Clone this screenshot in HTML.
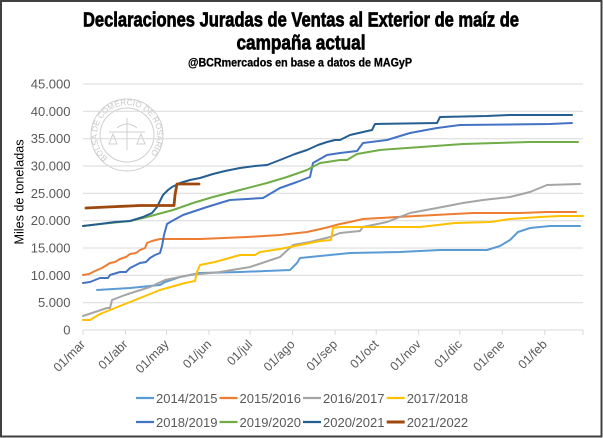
<!DOCTYPE html>
<html><head><meta charset="utf-8"><style>
html,body{margin:0;padding:0;background:#fff;}
svg{display:block;}
</style></head><body>
<svg width="603" height="438" viewBox="0 0 603 438" xmlns="http://www.w3.org/2000/svg">
<rect x="0" y="0" width="603" height="438" fill="#fff"/>
<rect x="1" y="1" width="600.5" height="435.5" fill="none" stroke="#404040" stroke-width="2"/>
<g font-family="'Liberation Sans Narrow','Liberation Sans',sans-serif" font-weight="bold" fill="#000" stroke="#000" text-anchor="middle">
<text x="301" y="26.5" font-size="20" stroke-width="0.7" textLength="436" lengthAdjust="spacingAndGlyphs">Declaraciones Juradas de Ventas al Exterior de maíz de</text>
<text x="301" y="49.5" font-size="20" stroke-width="0.7" textLength="129" lengthAdjust="spacingAndGlyphs">campaña actual</text>
<text x="300" y="66.5" font-size="12" stroke-width="0.3" textLength="224" lengthAdjust="spacingAndGlyphs">@BCRmercados en base a datos de MAGyP</text>
</g>
<g fill="none" stroke="#cfcfcf" stroke-width="1">
<circle cx="127" cy="135" r="36"/>
<circle cx="127" cy="135" r="27"/>
<path d="M117 128 q10 -8 20 0 M127 118 v32 M113 134 l-4 10 h8 z M141 134 l-4 10 h8 z M109 132 h36"/>
</g>
<defs><path id="arc" d="M107.7 158 A30 30 0 1 1 146.3 158"/></defs>
<text font-family="'Liberation Sans',sans-serif" font-size="8" fill="#c8c8c8"><textPath href="#arc" textLength="140" lengthAdjust="spacingAndGlyphs">BOLSA DE COMERCIO DE ROSARIO</textPath></text>
<g stroke="#d9d9d9" stroke-width="1">
<line x1="83" x2="583" y1="302.7" y2="302.7"/>
<line x1="83" x2="583" y1="275.3" y2="275.3"/>
<line x1="83" x2="583" y1="248" y2="248"/>
<line x1="83" x2="583" y1="220.7" y2="220.7"/>
<line x1="83" x2="583" y1="193.3" y2="193.3"/>
<line x1="83" x2="583" y1="166" y2="166"/>
<line x1="83" x2="583" y1="138.7" y2="138.7"/>
<line x1="83" x2="583" y1="111.3" y2="111.3"/>
<line x1="83" x2="583" y1="84" y2="84"/>
</g>
<g stroke="#d9d9d9" stroke-width="1">
<line x1="83" x2="583" y1="330" y2="330"/>
<line x1="83" x2="83" y1="330" y2="335"/>
<line x1="125.5" x2="125.5" y1="330" y2="335"/>
<line x1="166.6" x2="166.6" y1="330" y2="335"/>
<line x1="209" x2="209" y1="330" y2="335"/>
<line x1="250.1" x2="250.1" y1="330" y2="335"/>
<line x1="292.6" x2="292.6" y1="330" y2="335"/>
<line x1="335.1" x2="335.1" y1="330" y2="335"/>
<line x1="376.2" x2="376.2" y1="330" y2="335"/>
<line x1="418.7" x2="418.7" y1="330" y2="335"/>
<line x1="459.8" x2="459.8" y1="330" y2="335"/>
<line x1="502.3" x2="502.3" y1="330" y2="335"/>
<line x1="544.8" x2="544.8" y1="330" y2="335"/>
<line x1="583" x2="583" y1="330" y2="335"/>
</g>
<g font-family="'Liberation Sans',sans-serif" font-size="13" fill="#595959" text-anchor="end">
<text x="70.5" y="334.5">0</text>
<text x="70.5" y="307.2">5.000</text>
<text x="70.5" y="279.8">10.000</text>
<text x="70.5" y="252.5">15.000</text>
<text x="70.5" y="225.2">20.000</text>
<text x="70.5" y="197.8">25.000</text>
<text x="70.5" y="170.5">30.000</text>
<text x="70.5" y="143.2">35.000</text>
<text x="70.5" y="115.8">40.000</text>
<text x="70.5" y="88.5">45.000</text>
</g>
<text transform="translate(23.5,192) rotate(-90)" font-family="'Liberation Sans',sans-serif" font-size="13" fill="#000" text-anchor="middle" textLength="105" lengthAdjust="spacingAndGlyphs">Miles de toneladas</text>
<g font-family="'Liberation Sans',sans-serif" font-size="12.5" fill="#595959" text-anchor="end">
<text transform="translate(86,345) rotate(-45)">01/mar</text>
<text transform="translate(128.5,345) rotate(-45)">01/abr</text>
<text transform="translate(169.6,345) rotate(-45)">01/may</text>
<text transform="translate(212,345) rotate(-45)">01/jun</text>
<text transform="translate(253.1,345) rotate(-45)">01/jul</text>
<text transform="translate(295.6,345) rotate(-45)">01/ago</text>
<text transform="translate(338.1,345) rotate(-45)">01/sep</text>
<text transform="translate(379.2,345) rotate(-45)">01/oct</text>
<text transform="translate(421.7,345) rotate(-45)">01/nov</text>
<text transform="translate(462.8,345) rotate(-45)">01/dic</text>
<text transform="translate(505.3,345) rotate(-45)">01/ene</text>
<text transform="translate(547.8,345) rotate(-45)">01/feb</text>
</g>
<g fill="none" stroke-width="2" stroke-linejoin="round" stroke-linecap="round">
<polyline stroke="#5B9BD5" points="97,290 130,288 160,285 165,282 180,277 200,273 240,272 290,270 297,263 300,258 320,256 330,255 350,253 400,252 440,250 487,250 500,246 510,240 518,232 530,228 550,226 580,226"/>
<polyline stroke="#ED7D31" points="83,275 89,274 95,271 102,268 110,263 115,262 120,259 126,257 130,254 136,253 140,250 145,248 147,243 152,241 160,239 200,239 247,237 280,235 307,232 325,228 340,224 350,222 363,219 397,217 473,213 520,213 547,212 576,212"/>
<polyline stroke="#A5A5A5" points="83,316 95,312 107,308 110,308 112,300 125,295 150,287 165,280 190,275 220,272 250,267 265,262 280,257 293,245 310,242 330,237 340,233 360,231 363,227 387,222 410,213 437,208 463,203 483,200 510,197 530,192 547,185 580,184"/>
<polyline stroke="#FFC000" points="83,320 90,320 100,314 115,308 135,300 160,290 185,283 195,281 197,272 200,265 215,262 240,255 255,255 260,252 280,249 300,245 320,241 331,240 333,228 340,227 420,227 455,223 490,222 510,219 540,217 560,216 583,216"/>
<polyline stroke="#4472C4" points="83,283 90,282 100,278 108,278 110,275 120,272 126,272 130,268 140,263 146,262 150,258 155,255 160,253 162,246 164,235 167,224 172,221 183,215 195,211 207,207 220,203 230,200 263,198 280,188 297,182 310,177 313,163 327,155 340,153 357,151 363,143 387,140 410,133 437,128 460,125 550,124 572,123"/>
<polyline stroke="#70AD47" points="83,226 100,224 130,221 147,217 173,210 193,203 213,197 240,190 267,183 287,177 307,170 320,163 327,162 340,160 347,160 357,154 380,150 407,148 463,144 530,142 578,142"/>
<polyline stroke="#255E91" points="83,226 100,224 115,222 130,221 143,217 152,213 157,207 163,195 168,190 172,187 180,183 190,180 200,178 213,174 225,171 240,168 255,166 267,165 280,160 295,154 307,150 318,145 327,142 335,140 340,140 350,135 363,132 372,130 375,124 437,123 440,117 487,116 510,115 572,115"/>
<polyline stroke="#9E480E" stroke-width="2.8" points="86,208 107,207 140,205.5 174,205.5 175,195 177,184 199,184"/>
</g>
<g stroke-width="2.2">
<line x1="136" x2="154" y1="398" y2="398" stroke="#5B9BD5"/>
<line x1="219.5" x2="237.5" y1="398" y2="398" stroke="#ED7D31"/>
<line x1="303" x2="321" y1="398" y2="398" stroke="#A5A5A5"/>
<line x1="386.7" x2="404.7" y1="398" y2="398" stroke="#FFC000"/>
<line x1="136" x2="154" y1="422" y2="422" stroke="#4472C4"/>
<line x1="219.5" x2="237.5" y1="422" y2="422" stroke="#70AD47"/>
<line x1="303" x2="321" y1="422" y2="422" stroke="#255E91"/>
<line x1="386.7" x2="404.7" y1="422" y2="422" stroke="#9E480E" stroke-width="3"/>
</g>
<g font-family="'Liberation Sans',sans-serif" font-size="13" fill="#595959">
<text x="156" y="403">2014/2015</text>
<text x="239.5" y="403">2015/2016</text>
<text x="323" y="403">2016/2017</text>
<text x="406.7" y="403">2017/2018</text>
<text x="156" y="427">2018/2019</text>
<text x="239.5" y="427">2019/2020</text>
<text x="323" y="427">2020/2021</text>
<text x="406.7" y="427">2021/2022</text>
</g>
</svg>
</body></html>
